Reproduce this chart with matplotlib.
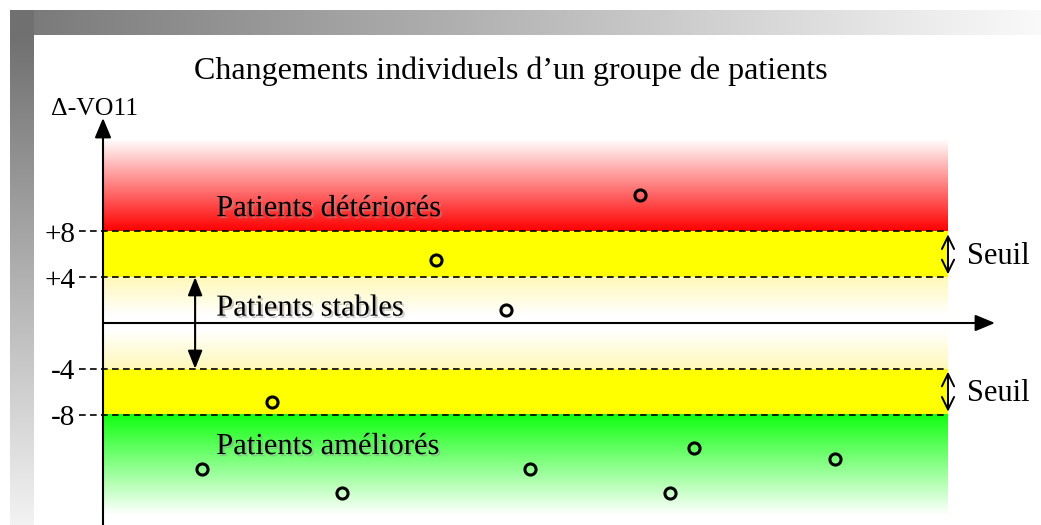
import numpy as np
import matplotlib
matplotlib.use('Agg')
import matplotlib.pyplot as plt
import matplotlib.patheffects as pe

plt.rcParams['font.family'] = ['Liberation Serif', 'DejaVu Serif']

# data: one point per patient (x = patient position, y = change in VO2)
patients_x = [11.7, 20.0, 28.3, 39.4, 47.7, 50.5, 63.6, 67.1, 69.9, 86.6]
delta_vo = [-12.8, -6.9, -14.9, 5.5, 1.1, -12.8, 11.2, -14.9, -10.9, -11.9]

thresholds = [8, 4, -4, -8]
threshold_labels = ['+8', '+4', '-4', '-8']

title = 'Changements individuels d\u2019un groupe de patients'
ylabel = '\u0394-VO11'
zone_labels = ['Patients détériorés', 'Patients stables', 'Patients améliorés']
zone_label_y = [10.0, 1.3, -10.8]

W, H = 1041, 525
fig = plt.figure(figsize=(W / 100, H / 100), dpi=100)

# ---- background frame (pixel coordinates)
axbg = fig.add_axes([0, 0, 1, 1])
axbg.set_xlim(0, W)
axbg.set_ylim(H, 0)
axbg.axis('off')
top = np.linspace(0.47, 0.98, 256)[None, :]
axbg.imshow(np.dstack([top] * 3), extent=[10, W, 35, 10], aspect='auto', zorder=1)
left = np.linspace(0.44, 0.95, 256)[:, None]
axbg.imshow(np.dstack([left] * 3), extent=[10, 34, H, 35], aspect='auto', zorder=1)
corner = np.full((2, 2, 3), 0.44)
axbg.imshow(corner, extent=[10, 34, 35, 10], aspect='auto', zorder=2)

# ---- main axes in data units
px_x, px_y = 8.45, 11.44           # pixels per data unit
x0, y0 = 103, 323                  # pixel position of origin
ax = fig.add_axes([0, 0, 1, 1])
ax.patch.set_alpha(0)
ax.set_xlim(-x0 / px_x, (W - x0) / px_x)
ax.set_ylim((y0 - H) / px_y, y0 / px_y)
ax.axis('off')


def band(ax, y_lo, y_hi, c_lo, c_hi):
    t = np.linspace(0, 1, 256)[:, None]
    c_lo = np.array(matplotlib.colors.to_rgb(c_lo))
    c_hi = np.array(matplotlib.colors.to_rgb(c_hi))
    img = c_hi[None, None, :] * t[..., None] + c_lo[None, None, :] * (1 - t[..., None])
    img = img[::-1]
    ax.imshow(img, extent=[0, 100, y_lo, y_hi], aspect='auto', zorder=1,
              interpolation='bilinear')


band(ax, 8, 16.0, '#ff0000', '#ffffff')
band(ax, 4, 8, '#ffff00', '#ffff00')
band(ax, 0.6, 4, '#ffffff', '#fff8b8')
band(ax, -4, -0.6, '#fff8b8', '#ffffff')
band(ax, -8, -4, '#ffff00', '#ffff00')
band(ax, -16.8, -8, '#ffffff', '#10ff10')

# threshold lines and labels
ax.hlines(thresholds, -2.8, 100, colors='black', linestyles=(0, (4, 2.6)),
          lw=1.2, zorder=3)
for yv, lab in zip(thresholds, threshold_labels):
    ax.text(-3.3, yv - 0.3, lab, ha='right', va='center', fontsize=21, zorder=4)

# axes with arrows
ax.annotate('', xy=(0, (y0 - 118) / px_y), xytext=(0, (y0 - H) / px_y),
            arrowprops=dict(arrowstyle='-|>,head_length=0.6,head_width=0.25',
                            mutation_scale=20, lw=1.5, color='black',
                            shrinkA=0, shrinkB=0), zorder=5)
ax.annotate('', xy=((995 - x0) / px_x, 0), xytext=(0, 0),
            arrowprops=dict(arrowstyle='-|>,head_length=0.6,head_width=0.25',
                            mutation_scale=20, lw=1.5, color='black',
                            shrinkA=0, shrinkB=0), zorder=5)

# stable-range arrow
ax.annotate('', xy=(10.9, -4), xytext=(10.9, 4),
            arrowprops=dict(arrowstyle='<|-|>,head_length=0.55,head_width=0.22',
                            mutation_scale=20, lw=1.5, color='black',
                            shrinkA=0, shrinkB=0), zorder=5)

# threshold arrows
for a, b in [(4, 8), (-8, -4)]:
    ax.annotate('', xy=(100, a + 0.25), xytext=(100, b - 0.25),
                arrowprops=dict(arrowstyle='<->,head_length=0.45,head_width=0.22',
                                mutation_scale=20, lw=1.4, color='black',
                                shrinkA=0, shrinkB=0), zorder=5)
    ax.text(102.2, (a + b) / 2 - 0.2, 'Seuil', ha='left', va='center', fontsize=22)

# zone labels with soft shadow
for lab, yv in zip(zone_labels, zone_label_y):
    ax.text(13.4, yv, lab, ha='left', va='center', fontsize=22, zorder=4,
            path_effects=[pe.withSimplePatchShadow(offset=(1.5, -1.5),
                                                   shadow_rgbFace='0.6', alpha=0.5)])

# patients
ax.plot(patients_x, delta_vo, 'o', ms=8, mfc='none', mec='black', mew=2.2,
        zorder=6)

ax.text(48.3, (y0 - 71) / px_y, title, ha='center', va='center', fontsize=23)
ax.text(-6.1, (y0 - 109) / px_y, ylabel, ha='left', va='center', fontsize=18.5)

fig.savefig('out.png', dpi=100)
